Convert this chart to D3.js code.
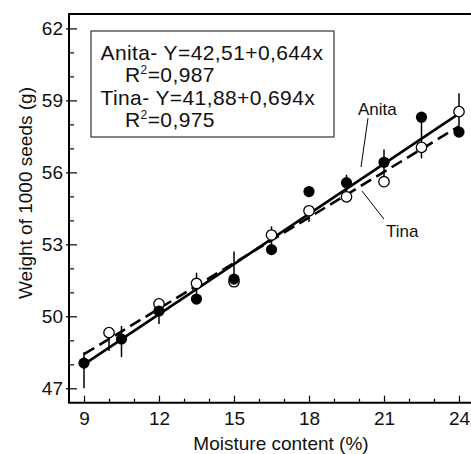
<!DOCTYPE html>
<html>
<head>
<meta charset="utf-8">
<script src="https://cdn.jsdelivr.net/npm/d3@7"></script>
<style>
  html, body { margin: 0; padding: 0; background: #fff; }
  svg { display: block; font-family: "Liberation Sans", Arial, sans-serif; }
</style>
</head>
<body>
<svg id="chart" width="471" height="454"></svg>
<script>
// ---- data ----
const xAnita  = [9, 10.5, 12, 13.5, 15, 16.5, 18, 19.5, 21, 22.5, 24];
const yAnita  = [48.05, 49.05, 50.22, 50.72, 51.55, 52.78, 55.2, 55.57, 56.42, 58.3, 57.68];
const loAnita = [47.0, 48.3, 49.68, 50.72, 51.55, 52.78, 55.2, 55.57, 56.42, 57.0, 57.68];
const hiAnita = [48.5, 49.6, 50.22, 50.72, 52.7, 52.78, 55.2, 55.9, 56.95, 58.3, 57.68];

const xTina  = [10, 12, 13.5, 15, 16.5, 18, 19.5, 21, 22.5, 24];
const yTina  = [49.32, 50.52, 51.37, 51.44, 53.39, 54.4, 54.98, 55.61, 57.04, 58.53];
const loTina = [48.55, 50.52, 50.72, 51.44, 52.78, 53.93, 54.98, 55.61, 56.58, 57.68];
const hiTina = [49.32, 50.7, 51.82, 51.44, 53.75, 54.4, 55.57, 56.42, 57.04, 59.3];

const fitXAnita = [9, 24];
const fitYAnita = [48.0, 58.45];
const fitXTina  = [9, 24];
const fitYTina  = [48.42, 57.92];

const xTicks = [9, 12, 15, 18, 21, 24];
const xMinor = [10, 11, 13, 14, 16, 17, 19, 20, 22, 23];
const yTicks = [47, 50, 53, 56, 59, 62];
const yMinor = [48, 49, 51, 52, 54, 55, 57, 58, 60, 61];

const eqLines = [
  {main: "Anita- Y=42,51+0,644x", r2: null},
  {main: null, r2: "=0,987"},
  {main: "Tina- Y=41,88+0,694x", r2: null},
  {main: null, r2: "=0,975"}
];
const xTitle = "Moisture content (%)";
const yTitle = "Weight of 1000 seeds (g)";

// ---- layout ----
const svg = d3.select("#chart");
const x = d3.scaleLinear().domain([8.4, 24.48]).range([69, 471]);
const y = d3.scaleLinear().domain([46.4, 62.6]).range([402.7, 14]);
const FONT = "Liberation Sans, Arial, sans-serif";

// frame (left, top, bottom)
const frame = svg.append("g").attr("stroke", "#000").attr("stroke-width", 2).attr("fill", "none");
frame.append("path").attr("d", `M${x.range()[1]},${y.range()[1]}H${x.range()[0]}V${y.range()[0]}H${x.range()[1]}`)
  .attr("stroke-linejoin", "miter");

// x axis
const gx = svg.append("g").attr("transform", `translate(0,${y.range()[0]})`);
gx.call(d3.axisBottom(x).tickValues(xTicks).tickSize(-7).tickPadding(8.5).tickFormat(d3.format("d")));
const gxm = svg.append("g").attr("transform", `translate(0,${y.range()[0]})`);
gxm.call(d3.axisBottom(x).tickValues(xMinor).tickSize(-4).tickFormat(""));

// y axis
const gy = svg.append("g").attr("transform", `translate(${x.range()[0]},0)`);
gy.call(d3.axisLeft(y).tickValues(yTicks).tickSize(-8).tickPadding(6).tickFormat(d3.format("d")));
const gyo = svg.append("g").attr("transform", `translate(${x.range()[0]},0)`);
gyo.call(d3.axisLeft(y).tickValues(yTicks).tickSize(3).tickFormat(""));
const gym = svg.append("g").attr("transform", `translate(${x.range()[0]},0)`);
gym.call(d3.axisLeft(y).tickValues(yMinor).tickSize(-5).tickFormat(""));

[gx, gxm, gy, gyo, gym].forEach(g => {
  g.select(".domain").remove();
  g.selectAll(".tick line").attr("stroke", "#000").attr("stroke-width", 1.2);
  g.selectAll("text").attr("font-family", FONT).attr("font-size", 19).attr("fill", "#111");
});

// axis titles
svg.append("text").attr("x", 281).attr("y", 450).attr("text-anchor", "middle")
  .attr("font-family", FONT).attr("font-size", 19).attr("fill", "#111").text(xTitle);
svg.append("text").attr("transform", "translate(32,193) rotate(-90)").attr("text-anchor", "middle")
  .attr("font-family", FONT).attr("font-size", 19).attr("fill", "#111").text(yTitle);

// fit lines
const line = d3.line().x(d => x(d[0])).y(d => y(d[1]));
svg.append("path").datum(fitXTina.map((v, i) => [v, fitYTina[i]])).attr("d", line)
  .attr("fill", "none").attr("stroke", "#000").attr("stroke-width", 2.6).attr("stroke-dasharray", "12,6");
svg.append("path").datum(fitXAnita.map((v, i) => [v, fitYAnita[i]])).attr("d", line)
  .attr("fill", "none").attr("stroke", "#000").attr("stroke-width", 2.6);

// error bars
function bars(xs, lo, hi) {
  svg.append("g").selectAll("line").data(xs).join("line")
    .attr("x1", d => x(d)).attr("x2", d => x(d))
    .attr("y1", (d, i) => y(lo[i])).attr("y2", (d, i) => y(hi[i]))
    .attr("stroke", "#000").attr("stroke-width", 1.5);
}
bars(xTina, loTina, hiTina);
bars(xAnita, loAnita, hiAnita);

// points
svg.append("g").selectAll("circle").data(xTina).join("circle")
  .attr("cx", d => x(d)).attr("cy", (d, i) => y(yTina[i])).attr("r", 5.2)
  .attr("fill", "#fff").attr("stroke", "#000").attr("stroke-width", 1.3);
svg.append("g").selectAll("circle").data(xAnita).join("circle")
  .attr("cx", d => x(d)).attr("cy", (d, i) => y(yAnita[i])).attr("r", 5.6)
  .attr("fill", "#000");

// series labels with leader lines
svg.append("line").attr("x1", x(20.36)).attr("y1", y(58.26)).attr("x2", x(20.08)).attr("y2", y(56.22))
  .attr("stroke", "#000").attr("stroke-width", 1);
svg.append("text").attr("x", x(19.96)).attr("y", y(58.39)).attr("font-family", FONT)
  .attr("font-size", 17).attr("fill", "#111").text("Anita");
svg.append("line").attr("x1", x(20.12)).attr("y1", y(55.22)).attr("x2", x(21.0)).attr("y2", y(54.05))
  .attr("stroke", "#000").attr("stroke-width", 1);
svg.append("text").attr("x", x(21.08)).attr("y", y(53.3)).attr("font-family", FONT)
  .attr("font-size", 17).attr("fill", "#111").text("Tina");

// equation box
svg.append("rect").attr("x", 91).attr("y", 31).attr("width", 243).attr("height", 106)
  .attr("fill", "#fff").attr("stroke", "#444").attr("stroke-width", 1.3);
const baselines = [60, 81.7, 105, 126.7];
eqLines.forEach((r, i) => {
  const t = svg.append("text").attr("y", baselines[i]).attr("font-family", FONT)
    .attr("font-size", 21).attr("letter-spacing", 0.4).attr("fill", "#111");
  if (r.main) {
    t.attr("x", 100.5).text(r.main);
  } else {
    t.attr("x", 125);
    t.append("tspan").text("R");
    t.append("tspan").attr("font-size", 12).attr("dy", -8).text("2");
    t.append("tspan").attr("dy", 8).text(r.r2);
  }
});
</script>
</body>
</html>
